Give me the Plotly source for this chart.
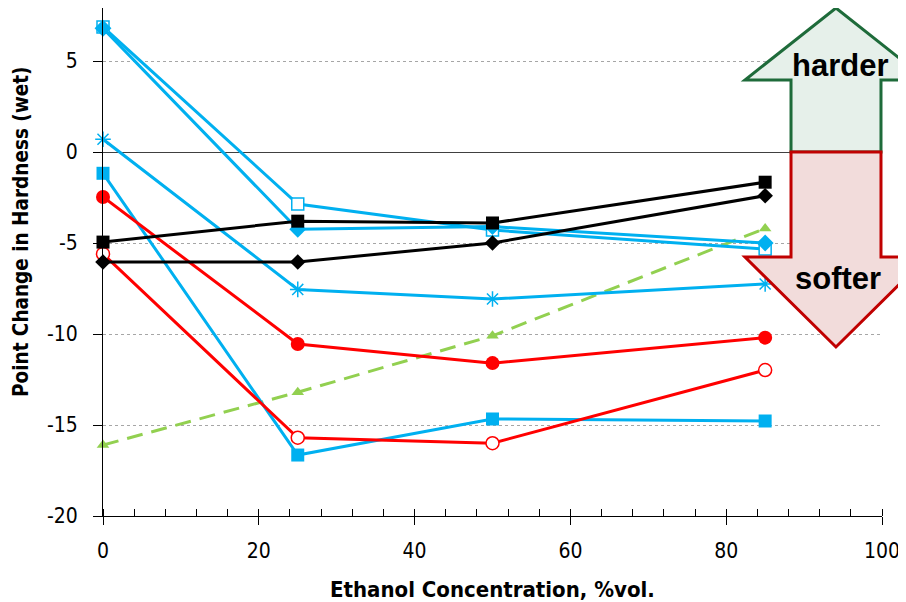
import plotly.graph_objects as go

# ---- data ----
conc = [0, 25, 50, 85]
blue_open_square = [6.87, -2.86, -4.29, -5.33]
blue_diamond = [6.8, -4.25, -4.1, -5.0]
blue_star = [0.7, -7.55, -8.08, -7.25]
blue_square = [-1.17, -16.65, -14.67, -14.78]
red_dot = [-2.47, -10.55, -11.6, -10.2]
red_open_circle = [-5.6, -15.7, -16.0, -11.98]
black_square = [-4.95, -3.8, -3.9, -1.66]
black_diamond = [-6.04, -6.04, -5.0, -2.4]
green_triangle = [-16.1, -13.2, -10.1, -4.2]

x_ticks = [0, 20, 40, 60, 80, 100]
x_tick_labels = ["0", "20", "40", "60", "80", "100"]
y_ticks = [-20, -15, -10, -5, 0, 5]
y_tick_labels = ["-20", "-15", "-10", "-5", "0", "5"]

BLUE = "#00B0F0"
RED = "#FF0000"
GREEN = "#92D050"
BLACK = "#000000"

FONT = "DejaVu Sans Condensed, Liberation Sans, Arial, sans-serif"

fig = go.Figure()

def add(y, color, symbol, size, fill=None, lw=0, dash="solid", name=""):
    fig.add_trace(go.Scatter(
        x=conc, y=y, mode="lines+markers", name=name,
        line=dict(color=color, width=3, dash=dash),
        marker=dict(symbol=symbol, size=size,
                    color=fill if fill is not None else color,
                    line=dict(color=color, width=lw)),
        cliponaxis=False,
    ))

add(green_triangle, GREEN, "triangle-up", 11, dash="16px,9px", name="green triangle")
add(blue_open_square, BLUE, "square", 12, fill="white", lw=1.5, name="blue open square")
add(blue_diamond, BLUE, "diamond", 13, name="blue diamond")
add(blue_star, BLUE, "asterisk-open", 13, lw=1.5, name="blue star")
add(blue_square, BLUE, "square", 13, name="blue square")
add(red_dot, RED, "circle", 14, name="red dot")
add(red_open_circle, RED, "circle", 13, fill="white", lw=1.5, name="red open circle")
add(black_diamond, BLACK, "diamond", 12, name="black diamond")
add(black_square, BLACK, "square", 13, name="black square")

# page has an 8px body margin: figure px = screen px - 8
OFF = 8
W, H = 906, 602
ML, MR, MT, MB = 95, 32, 0, 94   # plot area screen: x 103..882, y 8..516
PW = W - ML - MR
PH = H - MT - MB

def P(sx, sy):
    fx, fy = sx - OFF, sy - OFF
    return (fx - ML) / PW, (H - MB - fy) / PH

def path(points):
    s = ""
    for i, (px, py) in enumerate(points):
        x, y = P(px, py)
        s += ("M" if i == 0 else "L") + f"{x:.4f},{y:.4f} "
    return s + "Z"

up = [(791, 152), (791, 80), (745, 80), (836, 8), (927, 80), (881, 80), (881, 152)]
down = [(791, 152), (881, 152), (881, 257), (927, 257), (836, 347), (745, 257), (791, 257)]

fig.add_shape(type="path", path=path(up), xref="paper", yref="paper",
              fillcolor="#E6F0EA", line=dict(color="#1E6B3A", width=3), layer="above")
fig.add_shape(type="path", path=path(down), xref="paper", yref="paper",
              fillcolor="#F2DCDB", line=dict(color="#C00000", width=3), layer="above")

def label(sx, sy, text, size, family, angle=0):
    x, y = P(sx, sy)
    fig.add_annotation(x=x, y=y, xref="paper", yref="paper", text=text,
                       xanchor="center", yanchor="middle", textangle=angle,
                       showarrow=False, font=dict(family=family, size=size, color="black"))

label(840, 65, "<b>harder</b>", 31, "Liberation Sans, Arial")
label(838, 279, "<b>softer</b>", 31, "Liberation Sans, Arial")
label(492, 589, "<b>Ethanol Concentration, %vol.</b>", 22, FONT)
label(21, 232, "<b>Point Change in Hardness (wet)</b>", 20.5, FONT, angle=-90)

y_top = (152 - 8) / 18.2  # value at top edge of plot area

fig.update_layout(
    width=W, height=H,
    margin=dict(l=ML, r=MR, t=MT, b=MB, autoexpand=False),
    plot_bgcolor="white", paper_bgcolor="white",
    showlegend=False,
    font=dict(family=FONT, color="black"),
    xaxis=dict(
        range=[0, 100], tickvals=x_ticks, ticktext=x_tick_labels,
        ticks="outside", ticklen=8, tickcolor="black", ticklabelstandoff=8,
        tickfont=dict(size=21, family=FONT), showgrid=False, zeroline=False, automargin=False,
        showline=True, linecolor="black", linewidth=1,
        minor=dict(dtick=4, ticks="inside", ticklen=7, tickcolor="black", showgrid=False),
    ),
    yaxis=dict(
        range=[-20, y_top], tickvals=y_ticks, ticktext=y_tick_labels,
        ticks="outside", ticklen=9, tickcolor="black", ticklabelstandoff=11,
        tickfont=dict(size=21, family=FONT), showgrid=True, gridcolor="#A6A6A6", griddash="dot",
        gridwidth=1, zeroline=True, zerolinecolor="#404040", zerolinewidth=1, automargin=False,
        showline=True, linecolor="black", linewidth=1,
    ),
)

fig.write_html("out.html")
